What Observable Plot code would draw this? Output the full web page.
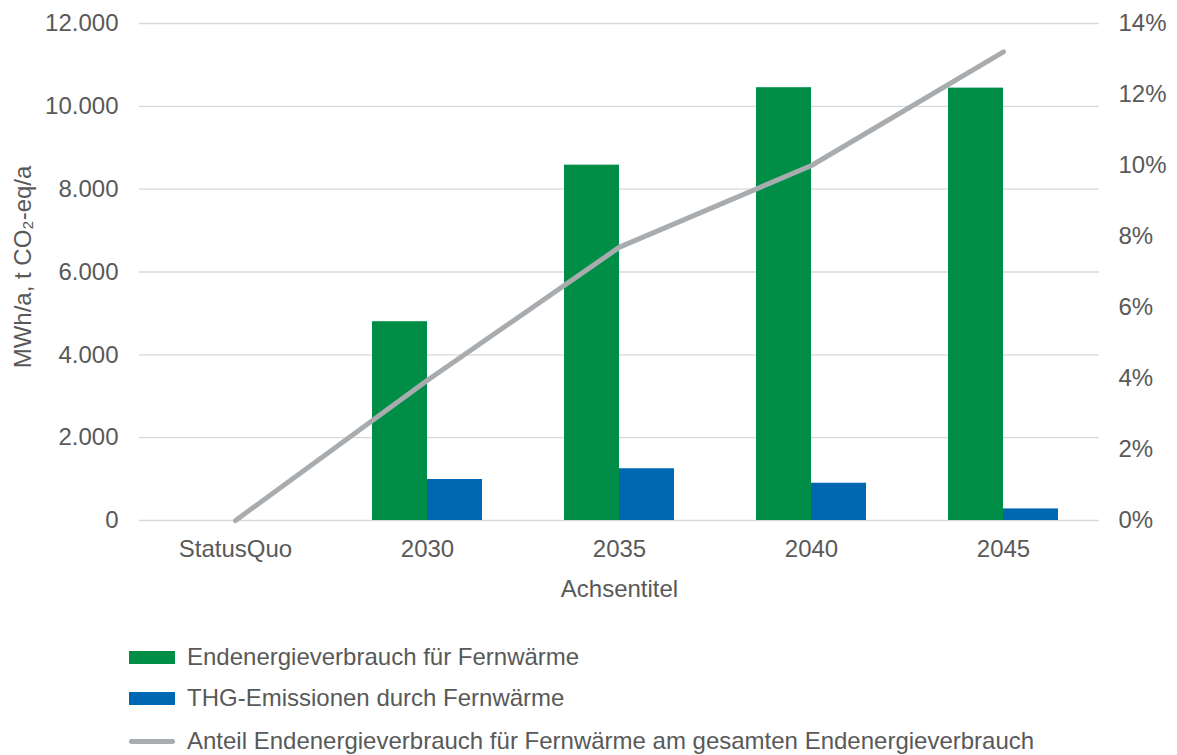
<!DOCTYPE html>
<html>
<head>
<meta charset="utf-8">
<script src="https://cdn.jsdelivr.net/npm/d3@7"></script>
<script src="https://cdn.jsdelivr.net/npm/@observablehq/plot@0.6"></script>
<style>
  body { margin: 0; background: #fff; font-family: "Liberation Sans", Arial, sans-serif; }
  #wrap { position: relative; width: 1177px; height: 755px; }
  #legend { position: absolute; left: 0; top: 610px; width: 1177px; height: 145px; }
  .item { position: absolute; left: 129px; display: flex; align-items: center; font-size: 24px; color: #595959; white-space: nowrap; }
  .sw { width: 46px; height: 13px; margin-right: 12px; }
  .ln { width: 46px; height: 5px; border-radius: 3px; margin-right: 12px; }
</style>
</head>
<body>
<div id="wrap">
  <div id="chart"></div>
  <div id="legend"></div>
</div>
<script>
const categories = ["StatusQuo", "2030", "2035", "2040", "2045"];
const endenergie = [0, 4800, 8580, 10450, 10440];
const thgEmissionen = [0, 990, 1250, 900, 280];
const anteilPct = [0, 3.95, 7.7, 10.0, 13.2];
const yTicks = [0, 2000, 4000, 6000, 8000, 10000, 12000];
const pctTicks = [0, 2, 4, 6, 8, 10, 12, 14];
const seriesNames = [
  "Endenergieverbrauch für Fernwärme",
  "THG-Emissionen durch Fernwärme",
  "Anteil Endenergieverbrauch für Fernwärme am gesamten Endenergieverbrauch"
];
const colors = ["#008E47", "#0068B3", "#A9ACAF"];

const yMax = 12000, pctMax = 14;
const toY = p => p * yMax / pctMax;

const de = d3.formatLocale({decimal: ",", thousands: ".", grouping: [3], currency: ["", "€"]});
const fmt = de.format(",");

const greenData = categories.map((c, i) => ({c, v: endenergie[i]}));
const blueData = categories.map((c, i) => ({c, v: thgEmissionen[i]}));
const lineData = categories.map((c, i) => ({c, v: toY(anteilPct[i])}));

const textColor = "#595959";
const fs = 24;

const plot = Plot.plot({
  width: 1177,
  height: 610,
  marginTop: 23,
  marginBottom: 90,
  marginLeft: 139,
  marginRight: 78,
  style: {fontFamily: "'Liberation Sans', Arial, sans-serif", fontSize: fs + "px", color: textColor, background: "#fff"},
  x: {type: "band", domain: categories, paddingInner: 0, paddingOuter: 0, label: null},
  y: {domain: [0, yMax], label: null},
  marks: [
    Plot.gridY(yTicks, {stroke: "#D9D9D9", strokeOpacity: 1, strokeWidth: 1.3}),
    Plot.axisY(yTicks, {anchor: "left", tickSize: 0, tickPadding: 21, tickFormat: fmt, label: null, fill: textColor, fontSize: fs}),
    Plot.axisY(pctTicks.map(toY), {anchor: "right", tickSize: 0, tickPadding: 19, tickFormat: d => Math.round(d * pctMax / yMax) + "%", label: null, fill: textColor, fontSize: fs}),
    Plot.axisX({tickSize: 0, tickPadding: 19, label: null, fill: textColor, fontSize: fs}),
    Plot.text(["MWh/a, t CO₂-eq/a"], {frameAnchor: "left", textAnchor: "middle", rotate: -90, dx: -116, dy: -5, fill: textColor, fontSize: fs}),
    Plot.text(["Achsentitel"], {frameAnchor: "bottom", textAnchor: "middle", dy: 76, fill: textColor, fontSize: fs}),
    Plot.barY(greenData, {x: "c", y: "v", fill: colors[0], insetLeft: 41, insetRight: 96}),
    Plot.barY(blueData, {x: "c", y: "v", fill: colors[1], insetLeft: 96, insetRight: 41}),
    Plot.line(lineData, {x: "c", y: "v", stroke: colors[2], strokeWidth: 5, strokeLinecap: "round", strokeLinejoin: "round"})
  ]
});
document.getElementById("chart").appendChild(plot);

const legend = document.getElementById("legend");
const tops = [47, 88, 131];
seriesNames.forEach((name, i) => {
  const item = document.createElement("div");
  item.className = "item";
  item.style.top = (tops[i] - 14) + "px";
  item.style.height = "28px";
  const sw = document.createElement("div");
  sw.className = i < 2 ? "sw" : "ln";
  sw.style.background = colors[i];
  const t = document.createElement("span");
  t.textContent = name;
  item.appendChild(sw);
  item.appendChild(t);
  legend.appendChild(item);
});
</script>
</body>
</html>
